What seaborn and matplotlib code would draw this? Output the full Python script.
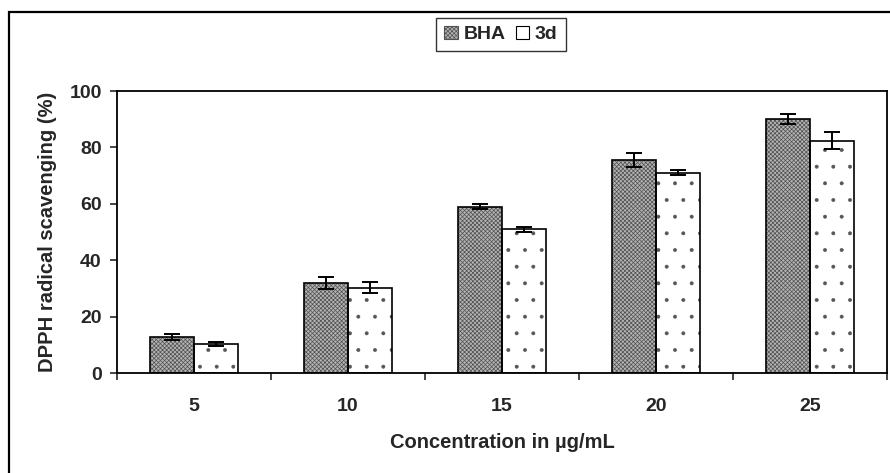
import seaborn as sns
import matplotlib.pyplot as plt
import matplotlib.patches as mpatches
import pandas as pd

# values
concentrations = ['5', '10', '15', '20', '25']
bha_mean = [12.7, 32.0, 59.0, 75.5, 90.2]
bha_err = [1.0, 2.2, 1.0, 2.6, 1.8]
d3_mean = [10.3, 30.2, 51.0, 71.0, 82.4]
d3_err = [0.7, 2.0, 0.9, 0.9, 2.9]
series = ['BHA', '3d']

sns.set_style('white')
plt.rcParams['font.family'] = ['Liberation Sans', 'DejaVu Sans']
plt.rcParams['font.weight'] = 'bold'
plt.rcParams['hatch.linewidth'] = 0.5

data = pd.DataFrame({
    'conc': concentrations * 2,
    'value': bha_mean + d3_mean,
    'err': bha_err + d3_err,
    'series': ['BHA'] * 5 + ['3d'] * 5,
})

fig = plt.figure(figsize=(8.9, 4.73), dpi=100)
ax = fig.add_axes([117 / 890, 100 / 473, 770 / 890, 282 / 473])

sns.barplot(data=data, x='conc', y='value', hue='series', hue_order=series,
            order=concentrations, width=0.565, errorbar=None,
            palette=['#b4b4b4', 'white'], edgecolor='#555555', linewidth=0,
            legend=False, ax=ax)

# hatching, black outlines and error bars from the bar patches
n = len(concentrations)
for i, p in enumerate(list(ax.patches[:2 * n])):
    if i < n:
        p.set_hatch('xxxxxxxx')
        p.set_edgecolor('#505050')
    else:
        p.set_hatch('.')
        p.set_edgecolor('#555555')
        if hasattr(p, 'set_hatch_linewidth'):
            p.set_hatch_linewidth(0.35)
    p.set_linewidth(0)
    ax.add_patch(mpatches.Rectangle((p.get_x(), p.get_y()), p.get_width(), p.get_height(),
                                    fill=False, edgecolor='black', linewidth=1.2, zorder=3))
    x = p.get_x() + p.get_width() / 2
    ax.errorbar(x, data['value'][i], yerr=data['err'][i], fmt='none',
                ecolor='black', elinewidth=1.4, capsize=6, capthick=1.4, zorder=4)

ax.set_xlim(-0.5, n - 0.5)
ax.set_ylim(0, 100)
ax.set_yticks([0, 20, 40, 60, 80, 100])
ax.set_xticks(range(n))
ax.set_xticks([k - 0.5 for k in range(n + 1)], minor=True)
ax.tick_params(axis='x', which='major', length=0, pad=18, labelsize=14)
ax.tick_params(axis='x', which='minor', length=5, width=1.2, direction='out', bottom=True)
ax.tick_params(axis='y', length=5, width=1.2, direction='out', left=True, pad=6, labelsize=14)
for lab in ax.get_xticklabels() + ax.get_yticklabels():
    lab.set_fontweight('bold')
ax.set_xlabel('Concentration in µg/mL', fontsize=14.5, fontweight='bold', labelpad=13)
ax.set_ylabel('DPPH radical scavenging (%)', fontsize=14.5, fontweight='bold', labelpad=9)
for s in ax.spines.values():
    s.set_visible(True)
    s.set_color('black')
    s.set_linewidth(1.3)

handles = [mpatches.Patch(facecolor='#b4b4b4', edgecolor='#505050', hatch='xxxxxxxx', lw=0.8),
           mpatches.Patch(facecolor='white', edgecolor='black', lw=0.8)]
leg = fig.legend(handles, series, loc='center', bbox_to_anchor=(501 / 890, 1 - 34.5 / 473),
                 ncol=2, frameon=True, fancybox=False, handlelength=0.7, handleheight=0.7,
                 handletextpad=0.3, columnspacing=0.5, borderpad=0.4,
                 prop={'weight': 'bold', 'size': 14})
leg.get_frame().set_edgecolor('black')
leg.get_frame().set_linewidth(1.0)

# outer frame of the original figure (cut at the bottom and right)
fig.patches.append(mpatches.Rectangle((9 / 890, -0.1), 1.2, 1 - 12 / 473 + 0.1,
                                      transform=fig.transFigure, fill=False,
                                      edgecolor='black', linewidth=1.6))

fig.savefig('out.png', dpi=100)
